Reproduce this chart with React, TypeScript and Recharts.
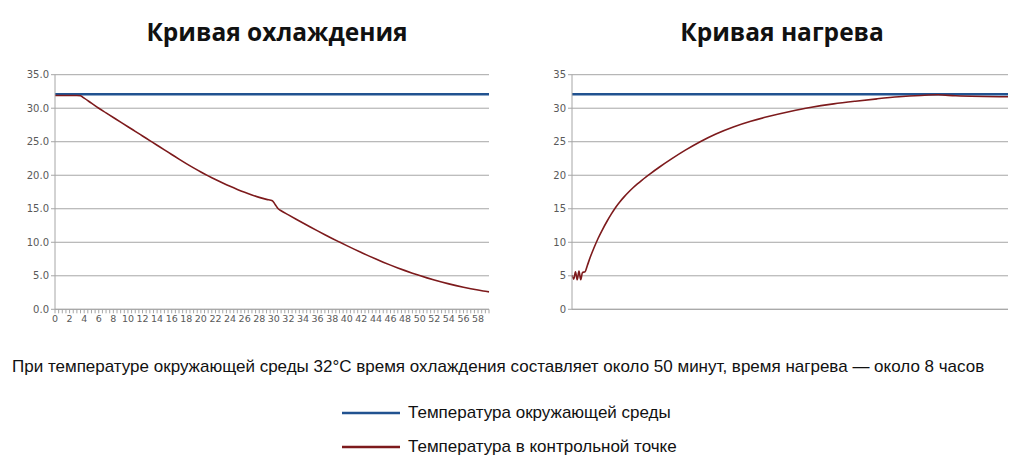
import React from 'react';
import { LineChart, Line, XAxis, YAxis, CartesianGrid } from 'recharts';

// ambient temperature (both charts)
const ambientTemp = 32.1;

// cooling curve: minutes / temperature at the control point
const coolMinutes = [
  0, 1, 2, 3, 3.5, 4, 5, 6, 7, 8, 9, 10, 11, 12, 13, 14, 15, 16, 17, 18, 19, 20,
  21, 22, 23, 24, 25, 26, 27, 28, 29, 29.8, 30.2, 30.6, 31, 32, 33, 34, 35, 36, 37, 38,
  39, 40, 41, 42, 43, 44, 45, 46, 47, 48, 49, 50, 51, 52, 53, 54, 55, 56, 57, 58, 59, 59.5,
];
const coolTemp = [
  31.9, 31.9, 31.9, 31.9, 31.85, 31.5, 30.75, 30.0, 29.31, 28.62, 27.93, 27.24, 26.55, 25.86,
  25.17, 24.48, 23.79, 23.1, 22.41, 21.74, 21.1, 20.49, 19.91, 19.36, 18.84, 18.35, 17.89, 17.46,
  17.06, 16.7, 16.4, 16.2, 15.6, 15.0, 14.7, 14.08, 13.47, 12.87, 12.28, 11.7, 11.13, 10.57,
  10.03, 9.5, 8.98, 8.47, 7.97, 7.49, 7.03, 6.59, 6.17, 5.77, 5.39, 5.03, 4.69, 4.37, 4.07,
  3.79, 3.53, 3.29, 3.07, 2.87, 2.69, 2.6,
];

// heating curve: relative time (axis hidden in the original) / temperature
const heatTime = [
  0, 0.4, 0.8, 1.2, 1.6, 2.0, 2.4, 3.0, 3.5, 4.2, 5, 6, 7, 8, 9, 10, 11, 12, 13, 14, 15, 16,
  17, 18, 20, 23, 26, 29.4, 33, 37, 41, 45, 50, 54.6, 60, 65, 70, 75, 80, 84, 88, 100,
];
const heatTemp = [
  5.1, 4.5, 5.6, 4.4, 5.7, 4.4, 5.5, 5.6, 6.5, 7.8, 9.1, 10.6, 11.9, 13.1, 14.2, 15.2, 16.05,
  16.81, 17.5, 18.13, 18.71, 19.25, 19.76, 20.25, 21.19, 22.51, 23.74, 25.0, 26.15, 27.2, 28.05,
  28.75, 29.5, 30.1, 30.65, 31.05, 31.4, 31.7, 31.9, 32.0, 31.85, 31.7,
];

const tempTicks = [0, 5, 10, 15, 20, 25, 30, 35];
const coolTicksX = Array.from({ length: 120 }, (_, i) => i * 0.5);

const BLUE = '#215290';
const RED = '#7d1a1c';
const GRID = '#a6a6a6';
const TICK_TEXT = { fill: '#595959', fontSize: 10, fontFamily: 'DejaVu Sans' };

const coolData = coolMinutes.map((t, i) => ({ t, temp: coolTemp[i] }));
const heatData = heatTime.map((t, i) => ({ t, temp: heatTemp[i] }));
const coolAmbient = [{ t: 0, temp: ambientTemp }, { t: 59.5, temp: ambientTemp }];
const heatAmbient = [{ t: 0, temp: ambientTemp }, { t: 100, temp: ambientTemp }];

const titleStyle: React.CSSProperties = {
  position: 'absolute',
  top: 15,
  fontFamily: 'Open Sans',
  fontWeight: 700,
  fontSize: 24.5,
  color: '#111',
  textAlign: 'center',
  whiteSpace: 'nowrap',
};

const App: React.FC = () => {
  return (
    <div style={{ position: 'absolute', left: 0, top: 0, width: 1024, height: 474, background: '#fff' }}>
      <div style={{ ...titleStyle, left: 77, width: 400 }}>Кривая охлаждения</div>
      <div style={{ ...titleStyle, left: 582, width: 400 }}>Кривая нагрева</div>

      <div style={{ position: 'absolute', left: 0, top: 60 }}>
        <LineChart width={500} height={280} margin={{ top: 14.7, right: 11, bottom: 5.7, left: 15 }}>
          <CartesianGrid vertical={false} stroke={GRID} />
          <XAxis
            dataKey="t"
            type="number"
            domain={[0, 59.5]}
            ticks={coolTicksX}
            interval={0}
            tickFormatter={(v: number) => (v % 2 === 0 ? String(v) : '')}
            tick={{ ...TICK_TEXT, fontSize: 9.5 }}
            tickSize={4}
            stroke={GRID}
            height={25}
            allowDuplicatedCategory={false}
          />
          <YAxis
            type="number"
            domain={[0, 35]}
            ticks={tempTicks}
            tickFormatter={(v: number) => v.toFixed(1)}
            tick={TICK_TEXT}
            tickSize={4}
            stroke={GRID}
            width={40}
          />
          <Line data={coolAmbient} dataKey="temp" stroke={BLUE} strokeWidth={2.5} dot={false} isAnimationActive={false} />
          <Line data={coolData} dataKey="temp" type="monotone" stroke={RED} strokeWidth={1.6} dot={false} isAnimationActive={false} />
        </LineChart>
      </div>

      <div style={{ position: 'absolute', left: 520, top: 60 }}>
        <LineChart width={504} height={280} margin={{ top: 14.7, right: 16, bottom: 5.7, left: 12 }}>
          <CartesianGrid vertical={false} stroke={GRID} />
          <XAxis dataKey="t" type="number" domain={[0, 100]} tick={false} tickLine={false} stroke={GRID} height={25} />
          <YAxis
            type="number"
            domain={[0, 35]}
            ticks={tempTicks}
            tick={TICK_TEXT}
            tickSize={4}
            stroke={GRID}
            width={40}
          />
          <Line data={heatAmbient} dataKey="temp" stroke={BLUE} strokeWidth={2.5} dot={false} isAnimationActive={false} />
          <Line data={heatData} dataKey="temp" type="monotone" stroke={RED} strokeWidth={1.6} dot={false} isAnimationActive={false} />
        </LineChart>
      </div>

      <div
        style={{
          position: 'absolute',
          left: 12,
          top: 357,
          fontFamily: 'Liberation Sans',
          fontSize: 17,
          color: '#111',
          whiteSpace: 'nowrap',
        }}
      >
        При температуре окружающей среды 32°C время охлаждения составляет около 50 минут, время нагрева — около 8 часов
      </div>

      {[
        { color: BLUE, label: 'Температура окружающей среды', top: 403 },
        { color: RED, label: 'Температура в контрольной точке', top: 437 },
      ].map((item) => (
        <div key={item.label} style={{ position: 'absolute', left: 340, top: item.top, display: 'flex', alignItems: 'center' }}>
          <svg width={62} height={20}>
            <line x1={2} y1={10} x2={60} y2={10} stroke={item.color} strokeWidth={2.5} />
          </svg>
          <span style={{ marginLeft: 6, fontFamily: 'Liberation Sans', fontSize: 17, color: '#111', whiteSpace: 'nowrap' }}>
            {item.label}
          </span>
        </div>
      ))}
    </div>
  );
};

export default App;
